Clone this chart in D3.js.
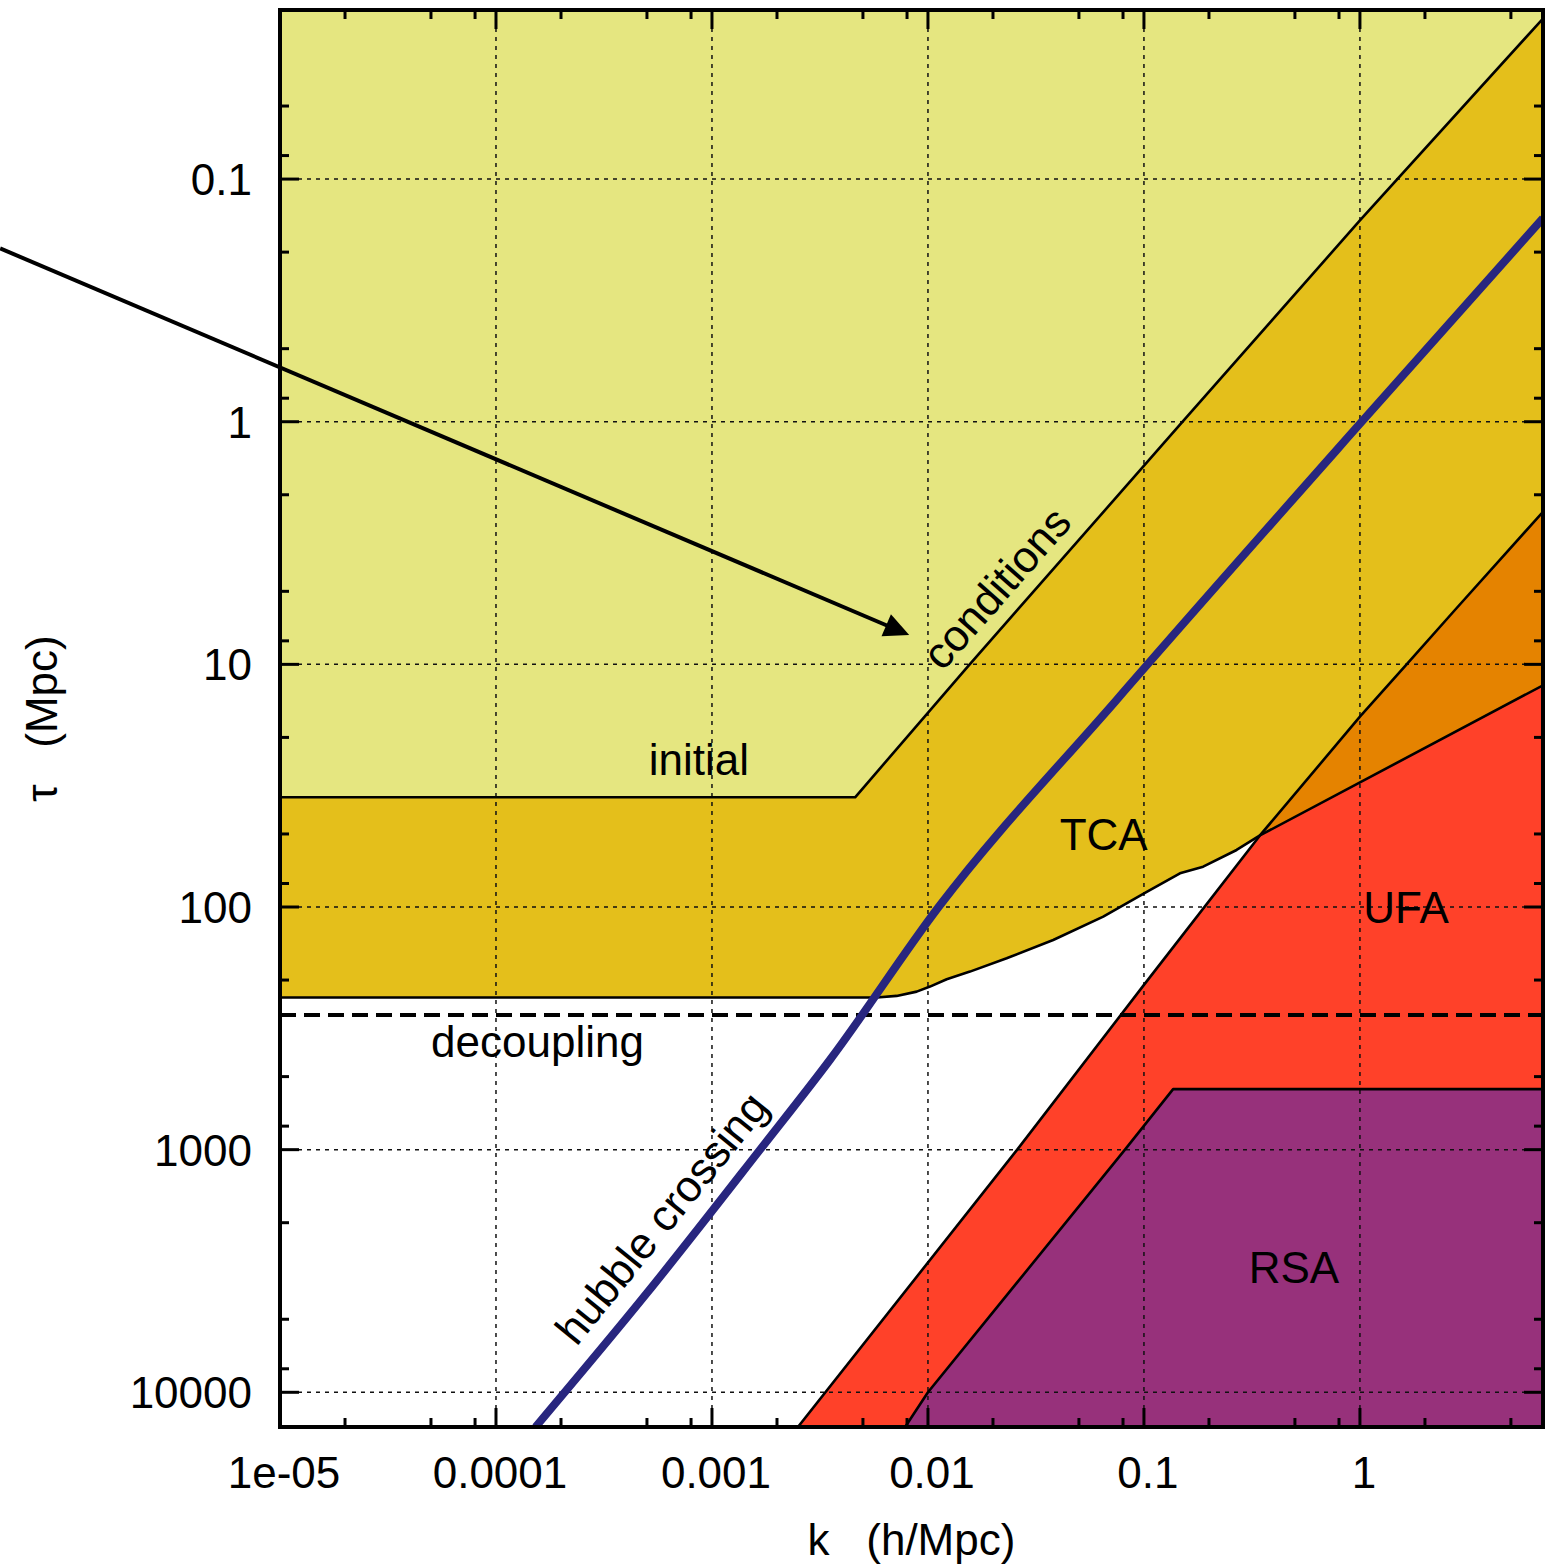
<!DOCTYPE html>
<html>
<head>
<meta charset="utf-8">
<script src="https://cdn.jsdelivr.net/npm/d3@7"></script>
<style>
  html, body { margin: 0; padding: 0; background: #ffffff; }
  svg { display: block; }
  text { font-family: "Liberation Sans", Arial, Helvetica, sans-serif; }
</style>
</head>
<body>
<svg id="chart" width="1558" height="1567"></svg>
<script>
// ---------------- data ----------------
const kDomain = [1e-5, 7.04];
const tauDomain = [0.0201, 13900];

const xTicks = [1e-5, 1e-4, 1e-3, 1e-2, 1e-1, 1];
const xTickLabels = ["1e-05", "0.0001", "0.001", "0.01", "0.1", "1"];
const yTicks = [0.1, 1, 10, 100, 1000, 10000];
const yTickLabels = ["0.1", "1", "10", "100", "1000", "10000"];
const minorMultipliers = [2, 5, 8];

// initial conditions boundary
const icK   = [1e-5, 0.0046, 0.0156, 0.151, 1.0, 7.04];
const icTau = [35.3, 35.3, 10, 1.0, 0.148, 0.0218];

// tight coupling approximation lower boundary
const tcaK   = [1e-5, 0.00579, 0.00716, 0.00887, 0.01022, 0.01221, 0.01565, 0.02314, 0.0380, 0.0648, 0.1011, 0.1468, 0.188, 0.2685, 0.3444, 7.04];
const tcaTau = [236, 236, 232.5, 223.2, 212.8, 198.4, 184.6, 162.6, 136.7, 109.6, 87.5, 72.6, 68.2, 58.2, 50.7, 12.2];

// ultra-relativistic fluid approximation boundary
const ufaK   = [0.0025, 0.0259, 0.1, 0.3444, 1.0, 1.645, 2.753, 7.04];
const ufaTau = [13900, 1000, 209.4, 50.7, 16.43, 10, 5.97, 2.35];

// radiation streaming approximation boundary
const rsaK   = [0.00784, 0.01, 0.0817, 0.1365, 7.04];
const rsaTau = [13900, 10000, 1000, 563, 563];

// hubble crossing
const hubbleK   = [1.524e-4, 5e-4, 1.67e-3, 3.52e-3, 0.0112, 0.0748, 1.02, 7.04];
const hubbleTau = [13900, 3900, 1000, 426, 100, 14, 1, 0.145];

// decoupling time
const tauDecoupling = 278.6;

// arrow (from outside the frame to the "conditions" label)
const arrowStart = [5.06e-7, 0.193];
const arrowEnd   = [0.00819, 7.57];

// annotations (anchor in data coordinates)
const annotations = [
  { text: "initial",         k: 8.69e-4, tau: 28.6,  angle: 0 },
  { text: "TCA",             k: 0.0651,  tau: 58.2,  angle: 0 },
  { text: "UFA",             k: 1.633,   tau: 116.3, angle: 0 },
  { text: "RSA",             k: 0.4947,  tau: 3538,  angle: 0 },
  { text: "decoupling",      k: 1.556e-4, tau: 413.5, angle: 0 },
  { text: "conditions",      k: 0.02347, tau: 5.33,  angle: -48.6 },
  { text: "hubble crossing", k: 6.63e-4, tau: 2092,  angle: -51 }
];

// ---------------- layout ----------------
const L = 280, R = 1543, T = 10, B = 1427;
const FONT = 44;
const colors = {
  ic: "#e5e680", tca: "#e4bf1b", overlap: "#e58300",
  ufa: "#ff4129", rsa: "#97317b", hubble: "#28267f"
};

const svg = d3.select("#chart");
const x = d3.scaleLog().domain(kDomain).range([L, R]);
const y = d3.scaleLog().domain(tauDomain).range([T, B]);

const line = d3.line().x(d => x(d[0])).y(d => y(d[1]));
const lineMono = d3.line().x(d => x(d[0])).y(d => y(d[1])).curve(d3.curveMonotoneX);
const icPts = d3.zip(icK, icTau);
const tcaPts = d3.zip(tcaK, tcaTau);
const ufaPts = d3.zip(ufaK, ufaTau);
const rsaPts = d3.zip(rsaK, rsaTau);
const hubblePts = d3.zip(hubbleK, hubbleTau);

const kMin = kDomain[0], kMax = kDomain[1], tMin = tauDomain[0], tMax = tauDomain[1];
const corner = (k, t) => `L${x(k)},${y(t)}`;

const defs = svg.append("defs");
defs.append("clipPath").attr("id", "plotClip")
  .append("rect").attr("x", L).attr("y", T).attr("width", R - L).attr("height", B - T);

const tcaLinePath = line(tcaPts);
const belowTcaPath = tcaLinePath + corner(kMax, tMax) + corner(kMin, tMax) + "Z";
defs.append("clipPath").attr("id", "belowTca")
  .append("path").attr("d", belowTcaPath);

const plot = svg.append("g").attr("clip-path", "url(#plotClip)");

// fills
plot.append("rect").attr("x", L).attr("y", T).attr("width", R - L).attr("height", B - T)
  .attr("fill", colors.ic);
plot.append("path")
  .attr("d", line(icPts) + corner(kMax, tMax) + corner(kMin, tMax) + "Z")
  .attr("fill", colors.tca);
plot.append("path").attr("d", belowTcaPath).attr("fill", "#ffffff");
const ufaPath = line(ufaPts) + corner(kMax, tMax) + "Z";
plot.append("path").attr("d", ufaPath).attr("fill", colors.overlap);
plot.append("g").attr("clip-path", "url(#belowTca)")
  .append("path").attr("d", ufaPath).attr("fill", colors.ufa);
plot.append("path")
  .attr("d", line(rsaPts) + corner(kMax, tMax) + "Z")
  .attr("fill", colors.rsa);

// annotations
svg.append("g").selectAll("text").data(annotations).join("text")
  .attr("transform", d => `translate(${x(d.k)},${y(d.tau)}) rotate(${d.angle})`)
  .attr("text-anchor", "middle")
  .attr("font-size", FONT)
  .attr("fill", "#000")
  .text(d => d.text);

// grid
const grid = plot.append("g").attr("stroke", "#111").attr("stroke-width", 1.5)
  .attr("stroke-dasharray", "4,5").attr("fill", "none");
grid.selectAll("line.gx").data(xTicks.filter(v => v > kMin)).join("line")
  .attr("x1", d => x(d)).attr("x2", d => x(d)).attr("y1", T).attr("y2", B);
grid.selectAll("line.gy").data(yTicks).join("line")
  .attr("y1", d => y(d)).attr("y2", d => y(d)).attr("x1", L).attr("x2", R);

// boundary lines
const bnd = plot.append("g").attr("fill", "none").attr("stroke", "#000").attr("stroke-width", 2.6)
  .attr("stroke-linejoin", "round");
bnd.append("path").attr("d", line(icPts));
bnd.append("path").attr("d", tcaLinePath);
bnd.append("path").attr("d", line(ufaPts));
bnd.append("path").attr("d", line(rsaPts));

// decoupling
plot.append("line")
  .attr("x1", L).attr("x2", R).attr("y1", y(tauDecoupling)).attr("y2", y(tauDecoupling))
  .attr("stroke", "#000").attr("stroke-width", 4).attr("stroke-dasharray", "16,8");

// hubble crossing
plot.append("path").attr("d", lineMono(hubblePts))
  .attr("fill", "none").attr("stroke", colors.hubble).attr("stroke-width", 8);

// arrow
{
  const x0 = x(arrowStart[0]), y0 = y(arrowStart[1]);
  const x1 = x(arrowEnd[0]), y1 = y(arrowEnd[1]);
  const len = Math.hypot(x1 - x0, y1 - y0);
  const ux = (x1 - x0) / len, uy = (y1 - y0) / len;
  const headL = 25, headW = 12;
  const bx = x1 - ux * headL, by = y1 - uy * headL;
  svg.append("line").attr("x1", x0).attr("y1", y0).attr("x2", bx + ux * 2).attr("y2", by + uy * 2)
    .attr("stroke", "#000").attr("stroke-width", 4);
  svg.append("path")
    .attr("d", `M${x1},${y1}L${bx - uy * headW},${by + ux * headW}L${bx + uy * headW},${by - ux * headW}Z`)
    .attr("fill", "#000");
}

// ticks
const minorX = [], minorY = [];
for (let e = -6; e <= 1; e++) minorMultipliers.forEach(m => {
  const v = m * Math.pow(10, e);
  if (v > kMin && v < kMax) minorX.push(v);
});
for (let e = -3; e <= 4; e++) minorMultipliers.forEach(m => {
  const v = m * Math.pow(10, e);
  if (v > tMin && v < tMax) minorY.push(v);
});
const tk = svg.append("g").attr("stroke", "#000").attr("stroke-width", 3);
const majorLen = 19, minorLen = 9;
xTicks.filter(v => v > kMin).forEach(v => {
  tk.append("line").attr("x1", x(v)).attr("x2", x(v)).attr("y1", B).attr("y2", B - majorLen);
  tk.append("line").attr("x1", x(v)).attr("x2", x(v)).attr("y1", T).attr("y2", T + majorLen);
});
minorX.forEach(v => {
  tk.append("line").attr("x1", x(v)).attr("x2", x(v)).attr("y1", B).attr("y2", B - minorLen);
  tk.append("line").attr("x1", x(v)).attr("x2", x(v)).attr("y1", T).attr("y2", T + minorLen);
});
yTicks.forEach(v => {
  tk.append("line").attr("y1", y(v)).attr("y2", y(v)).attr("x1", L).attr("x2", L + majorLen);
  tk.append("line").attr("y1", y(v)).attr("y2", y(v)).attr("x1", R).attr("x2", R - majorLen);
});
minorY.forEach(v => {
  tk.append("line").attr("y1", y(v)).attr("y2", y(v)).attr("x1", L).attr("x2", L + minorLen);
  tk.append("line").attr("y1", y(v)).attr("y2", y(v)).attr("x1", R).attr("x2", R - minorLen);
});

// frame
svg.append("rect").attr("x", L).attr("y", T).attr("width", R - L).attr("height", B - T)
  .attr("fill", "none").attr("stroke", "#000").attr("stroke-width", 4);

// tick labels
svg.append("g").selectAll("text").data(d3.zip(xTicks, xTickLabels)).join("text")
  .attr("x", d => x(d[0]) + 4).attr("y", 1488)
  .attr("text-anchor", "middle").attr("font-size", FONT).text(d => d[1]);
svg.append("g").selectAll("text").data(d3.zip(yTicks, yTickLabels)).join("text")
  .attr("x", 252).attr("y", d => y(d[0]) + 16)
  .attr("text-anchor", "end").attr("font-size", FONT).text(d => d[1]);

// axis titles
svg.append("text")
  .attr("x", (L + R) / 2).attr("y", 1555)
  .attr("text-anchor", "middle").attr("font-size", FONT)
  .style("white-space", "pre")
  .text("k   (h/Mpc)");
svg.append("text")
  .attr("transform", `translate(57,${(T + B) / 2}) rotate(-90)`)
  .attr("text-anchor", "middle").attr("font-size", FONT)
  .style("white-space", "pre")
  .text("τ   (Mpc)");
</script>
</body>
</html>
